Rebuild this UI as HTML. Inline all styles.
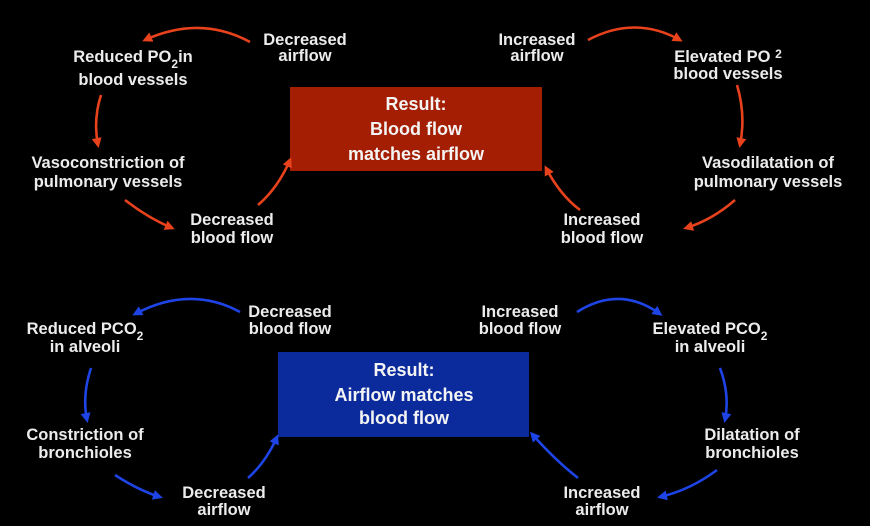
<!DOCTYPE html>
<html><head><style>
html,body{margin:0;padding:0;background:#000;}
svg{display:block;}
text{font-family:"Liberation Sans",sans-serif;font-weight:bold;fill:#ececec;font-size:16.5px;text-anchor:middle;}
.b{font-size:18px;fill:#f4f4f4;}
</style></head><body>
<svg width="870" height="526" viewBox="0 0 870 526">
<defs>
<marker id="r" markerWidth="10" markerHeight="10" refX="7" refY="5" orient="auto" markerUnits="userSpaceOnUse"><path d="M0,0 L10,5 L0,10 z" fill="#e8421c"/></marker>
<marker id="bl" markerWidth="10" markerHeight="10" refX="7" refY="5" orient="auto" markerUnits="userSpaceOnUse"><path d="M0,0 L10,5 L0,10 z" fill="#1e44e6"/></marker>
</defs>
<rect x="290" y="87" width="252" height="84" fill="#a31e02"/>
<rect x="278" y="352" width="251" height="85" fill="#0b2a9c"/>
<g fill="none" stroke="#e8421c" stroke-width="2.6" marker-end="url(#r)">
<path d="M250,42 Q200,15 145,40"/>
<path d="M101,95 Q93,120 98,145"/>
<path d="M125,200 Q148,218 172,228"/>
<path d="M258,205 Q278,188 290,160"/>
<path d="M588,40 Q635,15 680,40"/>
<path d="M737,85 Q746,115 740,145"/>
<path d="M735,200 Q712,220 686,228"/>
<path d="M580,210 Q560,195 546,168"/>
</g>
<g fill="none" stroke="#1e44e6" stroke-width="2.6" marker-end="url(#bl)">
<path d="M240,312 Q190,285 135,314"/>
<path d="M91,368 Q82,395 87,420"/>
<path d="M115,475 Q138,490 160,497"/>
<path d="M248,478 Q266,462 277,437"/>
<path d="M577,312 Q620,285 660,314"/>
<path d="M720,368 Q730,395 725,420"/>
<path d="M717,470 Q690,490 660,497"/>
<path d="M578,478 Q555,460 532,434"/>
</g>
<text x="305" y="45">Decreased</text><text x="305" y="61">airflow</text>
<text x="133" y="62">Reduced PO<tspan font-size="12" dy="6">2</tspan><tspan dy="-6">in</tspan></text><text x="133" y="85">blood vessels</text>
<text x="108" y="168">Vasoconstriction of</text><text x="108" y="187">pulmonary vessels</text>
<text x="232" y="225">Decreased</text><text x="232" y="243">blood flow</text>
<text x="537" y="45">Increased</text><text x="537" y="61">airflow</text>
<text x="728" y="62">Elevated PO <tspan font-size="12" dy="-4">2</tspan></text><text x="728" y="79">blood vessels</text>
<text x="768" y="168">Vasodilatation of</text><text x="768" y="187">pulmonary vessels</text>
<text x="602" y="225">Increased</text><text x="602" y="243">blood flow</text>
<text class="b" x="416" y="110">Result:</text><text class="b" x="416" y="135">Blood flow</text><text class="b" x="416" y="160">matches airflow</text>
<text x="290" y="317">Decreased</text><text x="290" y="334">blood flow</text>
<text x="85" y="334">Reduced PCO<tspan font-size="12" dy="6">2</tspan></text><text x="85" y="352">in alveoli</text>
<text x="85" y="440">Constriction of</text><text x="85" y="458">bronchioles</text>
<text x="224" y="498">Decreased</text><text x="224" y="515">airflow</text>
<text x="520" y="317">Increased</text><text x="520" y="334">blood flow</text>
<text x="710" y="334">Elevated PCO<tspan font-size="12" dy="6">2</tspan></text><text x="710" y="352">in alveoli</text>
<text x="752" y="440">Dilatation of</text><text x="752" y="458">bronchioles</text>
<text x="602" y="498">Increased</text><text x="602" y="515">airflow</text>
<text class="b" x="404" y="376">Result:</text><text class="b" x="404" y="401">Airflow matches</text><text class="b" x="404" y="424">blood flow</text>
</svg>
</body></html>
